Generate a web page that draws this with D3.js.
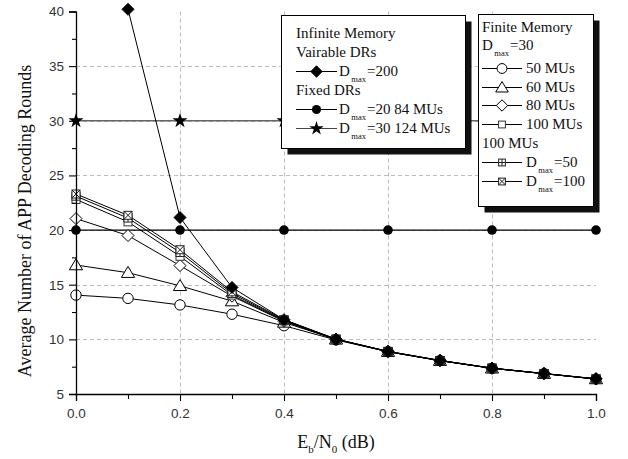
<!DOCTYPE html>
<html>
<head>
<meta charset="utf-8">
<script src="https://cdn.jsdelivr.net/npm/d3@7"></script>
<style>
  html, body { margin: 0; padding: 0; background: #fff; }
  svg { display: block; }
  .tick text { font-family: "Liberation Sans", Arial, sans-serif; font-size: 13.5px; fill: #333; }
  .serif { font-family: "Liberation Serif", "Times New Roman", serif; fill: #111; }
</style>
</head>
<body>
<div id="chart"></div>
<script>
// Eb/N0 (dB) sample points
const ebn0 = [0.0, 0.1, 0.2, 0.3, 0.4, 0.5, 0.6, 0.7, 0.8, 0.9, 1.0];

// finite memory, Dmax = 30
const mu50 = [14.05, 13.75, 13.15, 12.3, 11.25, 9.95, 8.87, 8.05, 7.35, 6.86, 6.37];
const mu60 = [16.8, 16.1, 14.9, 13.5, 11.55, 10.0, 8.87, 8.05, 7.35, 6.86, 6.37];
const mu80 = [21.05, 19.5, 16.75, 13.95, 11.65, 10.0, 8.88, 8.05, 7.35, 6.86, 6.37];
const mu100 = [22.8, 20.75, 17.6, 14.05, 11.7, 10.0, 8.88, 8.06, 7.36, 6.86, 6.38];
// finite memory, 100 MUs
const mu100d50 = [23.1, 21.1, 17.95, 14.2, 11.75, 10.02, 8.89, 8.06, 7.36, 6.87, 6.38];
const mu100d100 = [23.3, 21.35, 18.2, 14.35, 11.8, 10.02, 8.9, 8.07, 7.37, 6.87, 6.38];

// infinite memory, variable DRs, Dmax = 200 (no point at 0.0)
const infD200 = [null, 40.2, 21.15, 14.75, 11.8, 10.02, 8.9, 8.07, 7.37, 6.88, 6.4];

// infinite memory, fixed DRs
const fixedX = [0.0, 0.2, 0.4, 0.6, 0.8, 1.0];
const fixedD20 = [20, 20, 20, 20, 20, 20];
const fixedD30 = [30, 30, 30, 30, 30, null];

const xTicks = [0.0, 0.2, 0.4, 0.6, 0.8, 1.0];
const xMinor = [0.1, 0.3, 0.5, 0.7, 0.9];
const yTicks = [5, 10, 15, 20, 25, 30, 35, 40];
const yMinor = [7.5, 12.5, 17.5, 22.5, 27.5, 32.5, 37.5];

const W = 628, H = 459;

const svg = d3.select('#chart').append('svg')
  .attr('width', W)
  .attr('height', H);

const x = d3.scaleLinear().domain([0, 1]).range([76, 596]);
const y = d3.scaleLinear().domain([5, 40]).range([394, 11.5]);

// grid
const grid = svg.append('g').attr('stroke', '#bbb').attr('stroke-dasharray', '4,3').attr('stroke-width', 1);
grid.selectAll('line.h').data([10, 15, 20, 25, 30, 35]).enter().append('line')
  .attr('x1', x(0)).attr('x2', x(1))
  .attr('y1', d => Math.round(y(d)) + 0.5).attr('y2', d => Math.round(y(d)) + 0.5);
grid.selectAll('line.v').data([0.2, 0.4, 0.6, 0.8]).enter().append('line')
  .attr('y1', y(40)).attr('y2', y(5))
  .attr('x1', d => Math.round(x(d)) + 0.5).attr('x2', d => Math.round(x(d)) + 0.5);

// marker drawing
function marker(g, type, cx, cy, scale) {
  const s = scale || 1;
  const m = g.append('g').attr('transform', `translate(${cx},${cy})`);
  if (type === 'circle') {
    m.append('circle').attr('r', 5.2 * s).attr('fill', '#fff').attr('stroke', '#000').attr('stroke-width', 1);
  } else if (type === 'dot') {
    m.append('circle').attr('r', 4.8 * s).attr('fill', '#000');
  } else if (type === 'triangle') {
    const a = 6.3 * s;
    m.append('path').attr('d', `M0,${-a}L${a * 1.05},${a * 0.75}L${-a * 1.05},${a * 0.75}Z`)
      .attr('fill', '#fff').attr('stroke', '#000');
  } else if (type === 'diamond' || type === 'fdiamond') {
    const a = 6 * s;
    m.append('path').attr('d', `M0,${-a}L${a},0L0,${a}L${-a},0Z`)
      .attr('fill', type === 'fdiamond' ? '#000' : '#fff').attr('stroke', '#000');
  } else if (type === 'star') {
    m.append('path').attr('d', d3.symbol(d3.symbolStar, 70 * s * s)())
      .attr('fill', '#000');
  } else {
    const a = 4 * s;
    m.append('rect').attr('x', -a).attr('y', -a).attr('width', 2 * a).attr('height', 2 * a)
      .attr('fill', '#fff').attr('stroke', type === 'square' ? '#333' : '#222');
    if (type === 'sqplus') {
      m.append('path').attr('d', `M0,${-a}V${a}M${-a},0H${a}`).attr('stroke', '#222');
    } else if (type === 'sqx') {
      m.append('path').attr('d', `M${-a},${-a}L${a},${a}M${a},${-a}L${-a},${a}`).attr('stroke', '#222');
    }
  }
}

function series(xs, ys, type, lineColor, lineWidth) {
  const pts = xs.map((d, i) => [d, ys[i]]).filter(p => p[1] != null);
  const g = svg.append('g');
  g.append('path')
    .datum(pts)
    .attr('fill', 'none')
    .attr('stroke', lineColor)
    .attr('stroke-width', lineWidth)
    .attr('d', d3.line().x(p => x(p[0])).y(p => y(p[1])));
  pts.forEach(p => marker(g, type, x(p[0]), y(p[1])));
}

series(fixedX, fixedD30, 'star', '#666', 1.5);
series(fixedX, fixedD20, 'dot', '#000', 1.2);
series(ebn0, mu50, 'circle', '#000', 1);
series(ebn0, mu60, 'triangle', '#000', 1);
series(ebn0, mu80, 'diamond', '#000', 1);
series(ebn0, mu100, 'square', '#000', 1);
series(ebn0, mu100d50, 'sqplus', '#000', 1);
series(ebn0, mu100d100, 'sqx', '#000', 1);
series(ebn0, infD200, 'fdiamond', '#000', 1);

// axes
svg.append('g').attr('transform', `translate(${x(0)},0)`)
  .call(d3.axisLeft(y).tickValues(yTicks).tickSize(7).tickPadding(5).tickFormat(d3.format('d')));
svg.append('g').attr('transform', `translate(${x(0)},0)`)
  .call(d3.axisLeft(y).tickValues(yMinor).tickSize(4).tickFormat(''))
  .select('.domain').remove();
svg.append('g').attr('transform', `translate(0,${y(5)})`)
  .call(d3.axisBottom(x).tickValues(xTicks).tickSize(7).tickPadding(7).tickFormat(d3.format('.1f')));
svg.append('g').attr('transform', `translate(0,${y(5)})`)
  .call(d3.axisBottom(x).tickValues(xMinor).tickSize(5).tickFormat(''))
  .select('.domain').remove();
svg.selectAll('.domain').attr('stroke-width', 1.3);
svg.selectAll('.tick line').attr('stroke-width', 1.1);

// axis titles
svg.append('text')
  .attr('class', 'serif')
  .attr('transform', 'translate(31,221) rotate(-90)')
  .attr('text-anchor', 'middle')
  .attr('font-size', 18)
  .text('Average Number of APP Decoding Rounds');

const xt = svg.append('text')
  .attr('class', 'serif')
  .attr('x', x(0.5))
  .attr('y', 448)
  .attr('text-anchor', 'middle')
  .attr('font-size', 18);
xt.append('tspan').text('E');
xt.append('tspan').attr('dy', 5).attr('font-size', 11).text('b');
xt.append('tspan').attr('dy', -5).text('/N');
xt.append('tspan').attr('dy', 5).attr('font-size', 11).text('0');
xt.append('tspan').attr('dy', -5).text(' (dB)');

// legends
function legendBox(x0, y0, w, h) {
  const g = svg.append('g');
  g.append('rect').attr('x', x0 + 6).attr('y', y0 + 6).attr('width', w).attr('height', h).attr('fill', '#111');
  g.append('rect').attr('x', x0).attr('y', y0).attr('width', w).attr('height', h)
    .attr('fill', '#fff').attr('stroke', '#000').attr('stroke-width', 1);
  return g;
}

function labelText(g, tx, ty, parts) {
  const t = g.append('text').attr('class', 'serif').attr('x', tx).attr('y', ty).attr('font-size', 15);
  parts.forEach(p => {
    if (p.sub) {
      t.append('tspan').attr('dx', 1.5).attr('dy', 5.5).attr('font-size', 8.5).text(p.sub);
      t.append('tspan').attr('dx', 1).attr('dy', -5.5).text(p.after || '');
    } else {
      t.append('tspan').text(p.text);
    }
  });
}

function legendRow(g, x1, x2, ty, type, parts, tx) {
  const ly = ty - 4.5;
  g.append('line').attr('x1', x1).attr('x2', x2).attr('y1', ly).attr('y2', ly)
    .attr('stroke', type === 'star' ? '#444' : '#000').attr('stroke-width', 1);
  marker(g, type, (x1 + x2) / 2, ly, type === 'square' || type === 'sqplus' || type === 'sqx' ? 0.85 : 0.95);
  labelText(g, tx, ty, parts);
}

const leftLegend = legendBox(281.5, 15.5, 184, 133);
labelText(leftLegend, 296, 38, [{ text: 'Infinite Memory' }]);
labelText(leftLegend, 296, 57, [{ text: 'Vairable DRs' }]);
legendRow(leftLegend, 296, 337, 76, 'fdiamond', [{ text: 'D' }, { sub: 'max', after: '=200' }], 339);
labelText(leftLegend, 296, 95, [{ text: 'Fixed DRs' }]);
legendRow(leftLegend, 296, 337, 114, 'dot', [{ text: 'D' }, { sub: 'max', after: '=20 84 MUs' }], 339);
legendRow(leftLegend, 296, 337, 133, 'star', [{ text: 'D' }, { sub: 'max', after: '=30 124 MUs' }], 339);

const rightLegend = legendBox(478.5, 14.5, 115, 192);
labelText(rightLegend, 482, 32, [{ text: 'Finite Memory' }]);
labelText(rightLegend, 482, 50, [{ text: 'D' }, { sub: 'max', after: '=30' }]);
legendRow(rightLegend, 482, 522, 73, 'circle', [{ text: '50 MUs' }], 526);
legendRow(rightLegend, 482, 522, 92, 'triangle', [{ text: '60 MUs' }], 526);
legendRow(rightLegend, 482, 522, 110, 'diamond', [{ text: '80 MUs' }], 526);
legendRow(rightLegend, 482, 522, 129, 'square', [{ text: '100 MUs' }], 526);
labelText(rightLegend, 482, 148, [{ text: '100 MUs' }]);
legendRow(rightLegend, 482, 522, 167, 'sqplus', [{ text: 'D' }, { sub: 'max', after: '=50' }], 526);
legendRow(rightLegend, 482, 522, 186, 'sqx', [{ text: 'D' }, { sub: 'max', after: '=100' }], 526);
</script>
</body>
</html>
